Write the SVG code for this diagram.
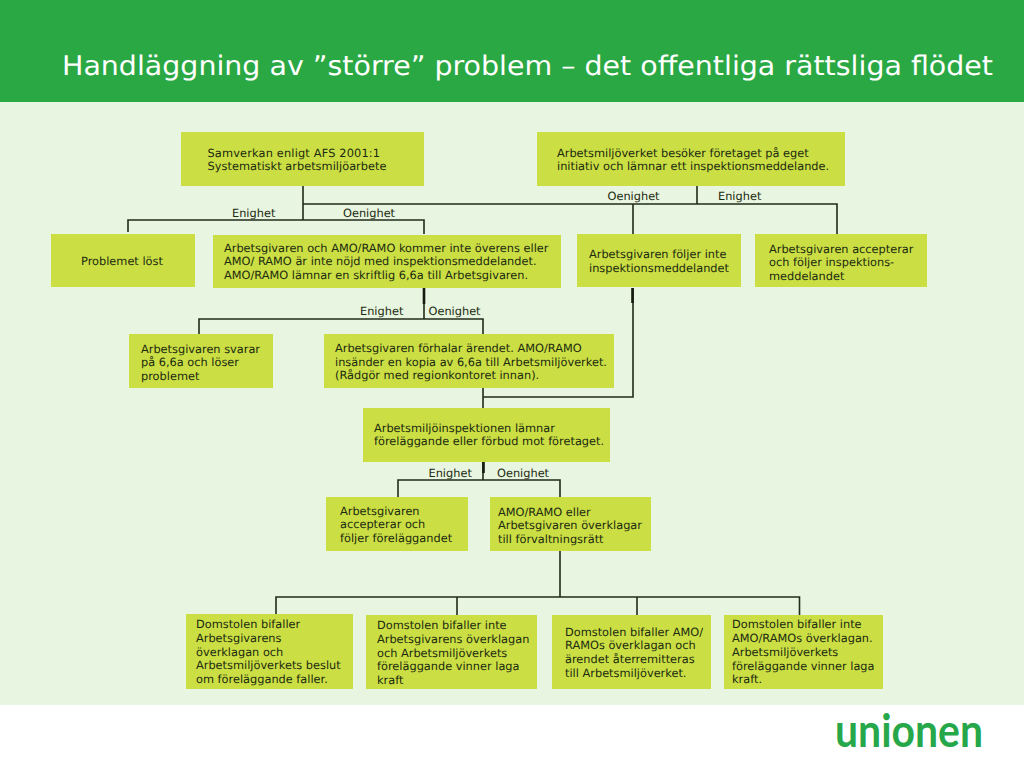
<svg xmlns="http://www.w3.org/2000/svg" width="1024" height="768" viewBox="0 0 1024 768">
<style>
.n{fill:#cbdf44}
.t{font-family:"DejaVu Sans",Verdana,sans-serif;font-size:11.35px;fill:#1c2a10;text-rendering:geometricPrecision}
.c{fill:none;stroke:#202c1a;stroke-width:1.6}
.s{fill:none;stroke:#141c10;stroke-width:2.6}
</style>
<rect width="1024" height="768" fill="#fff"/>
<rect id="content-band" y="102" width="1024" height="603" fill="#e8f5e0"/>
<rect id="title-band" width="1024" height="102" fill="#2aa843"/>
<text id="title" x="62" y="75" font-family="'DejaVu Sans',Verdana,sans-serif" font-size="27px" fill="#fff" textLength="931" lengthAdjust="spacingAndGlyphs" style="text-rendering:geometricPrecision">Handläggning av ”större” problem – det offentliga rättsliga flödet</text>
<g id="connectors">
<path class="c" d="M303 186V220M128 232V220H424V234"/>
<path class="c" d="M303 204H837V234M633 204V234M697 186V204"/>
<path class="c" d="M424 288V319M199 334V319H483V334"/>
<path class="c" d="M483 388V408M483 397H633V288"/>
<path class="c" d="M483 462V480M398 497V480H560V497"/>
<path class="c" d="M560 551V597M276 614V597H799.500V615M457 597V615M637 597V615"/>
<path class="s" d="M424 288V304M632.500 288V303M483.500 462V473"/>
</g>
<g id="n1"><rect class="n" x="181" y="132" width="243" height="54"/><text class="t" x="207.500" y="157" textLength="172.500">Samverkan enligt AFS 2001:1</text><text class="t" x="207.500" y="170" textLength="179">Systematiskt arbetsmiljöarbete</text></g>
<g id="n2"><rect class="n" x="537" y="132" width="308" height="54"/><text class="t" x="557" y="157">Arbetsmiljöverket besöker företaget på eget</text><text class="t" x="557" y="170">initiativ och lämnar ett inspektionsmeddelande.</text></g>
<g id="n3"><rect class="n" x="51" y="234" width="144" height="53"/><text class="t" x="81" y="265">Problemet löst</text></g>
<g id="n4"><rect class="n" x="213" y="235" width="348" height="53"/><text class="t" x="224" y="252">Arbetsgivaren och AMO/RAMO kommer inte överens eller</text><text class="t" x="224" y="265">AMO/ RAMO är inte nöjd med inspektionsmeddelandet.</text><text class="t" x="224" y="279">AMO/RAMO lämnar en skriftlig 6,6a till Arbetsgivaren.</text></g>
<g id="n5"><rect class="n" x="577" y="234" width="164" height="53"/><text class="t" x="589" y="258">Arbetsgivaren följer inte</text><text class="t" x="589" y="272">inspektionsmeddelandet</text></g>
<g id="n6"><rect class="n" x="755" y="234" width="172" height="53"/><text class="t" x="769" y="253">Arbetsgivaren accepterar</text><text class="t" x="769" y="266">och följer inspektions-</text><text class="t" x="769" y="280">meddelandet</text></g>
<g id="n7"><rect class="n" x="129" y="334" width="144" height="54"/><text class="t" x="141" y="353">Arbetsgivaren svarar</text><text class="t" x="141" y="366">på 6,6a och löser</text><text class="t" x="141" y="380">problemet</text></g>
<g id="n8"><rect class="n" x="324" y="334" width="290" height="54"/><text class="t" x="335" y="352">Arbetsgivaren förhalar ärendet. AMO/RAMO</text><text class="t" x="335" y="366">insänder en kopia av 6,6a till Arbetsmiljöverket.</text><text class="t" x="335" y="379">(Rådgör med regionkontoret innan).</text></g>
<g id="n9"><rect class="n" x="363" y="408" width="247" height="54"/><text class="t" x="374" y="432">Arbetsmiljöinspektionen lämnar</text><text class="t" x="374" y="445">föreläggande eller förbud mot företaget.</text></g>
<g id="n10"><rect class="n" x="326" y="497" width="142" height="54"/><text class="t" x="340" y="515">Arbetsgivaren</text><text class="t" x="340" y="528">accepterar och</text><text class="t" x="340" y="542">följer föreläggandet</text></g>
<g id="n11"><rect class="n" x="490" y="497" width="161" height="54"/><text class="t" x="498" y="516">AMO/RAMO eller</text><text class="t" x="498" y="529">Arbetsgivaren överklagar</text><text class="t" x="498" y="543">till förvaltningsrätt</text></g>
<g id="n12"><rect class="n" x="186" y="614" width="167" height="75"/><text class="t" x="196" y="628">Domstolen bifaller</text><text class="t" x="196" y="642">Arbetsgivarens</text><text class="t" x="196" y="656">överklagan och</text><text class="t" x="196" y="669">Arbetsmiljöverkets beslut</text><text class="t" x="196" y="683">om föreläggande faller.</text></g>
<g id="n13"><rect class="n" x="366" y="615" width="171" height="74"/><text class="t" x="377" y="629">Domstolen bifaller inte</text><text class="t" x="377" y="643">Arbetsgivarens överklagan</text><text class="t" x="377" y="657">och Arbetsmiljöverkets</text><text class="t" x="377" y="670">föreläggande vinner laga</text><text class="t" x="377" y="684">kraft</text></g>
<g id="n14"><rect class="n" x="552" y="615" width="159" height="74"/><text class="t" x="565" y="636">Domstolen bifaller AMO/</text><text class="t" x="565" y="649">RAMOs överklagan och</text><text class="t" x="565" y="663">ärendet återremitteras</text><text class="t" x="565" y="677">till Arbetsmiljöverket.</text></g>
<g id="n15"><rect class="n" x="724" y="615" width="159" height="74"/><text class="t" x="732" y="628">Domstolen bifaller inte</text><text class="t" x="732" y="642">AMO/RAMOs överklagan.</text><text class="t" x="732" y="656">Arbetsmiljöverkets</text><text class="t" x="732" y="670">föreläggande vinner laga</text><text class="t" x="732" y="683">kraft.</text></g>
<g id="edge-labels">
<text class="t" x="232" y="217">Enighet</text><text class="t" x="343" y="217">Oenighet</text>
<text class="t" x="607.500" y="200">Oenighet</text><text class="t" x="718" y="200">Enighet</text>
<text class="t" x="360" y="315">Enighet</text><text class="t" x="428.500" y="315">Oenighet</text>
<text class="t" x="428.500" y="477">Enighet</text><text class="t" x="497" y="477">Oenighet</text>
</g>
<text id="logo" x="835" y="747" font-family="'Lato',sans-serif" font-weight="700" font-size="46px" fill="#26a84a" textLength="148" lengthAdjust="spacingAndGlyphs">unionen</text>
</svg>
